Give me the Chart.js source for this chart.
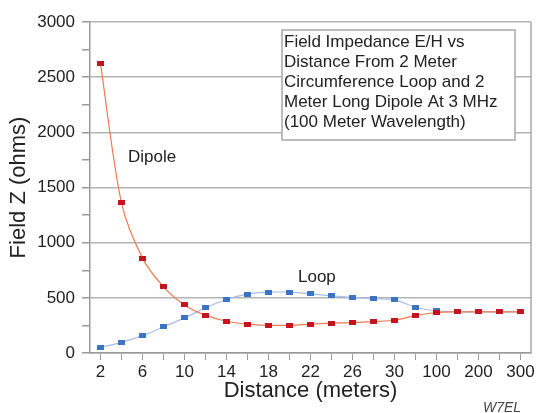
<!DOCTYPE html>
<html>
<head>
<meta charset="utf-8">
<script src="https://cdn.jsdelivr.net/npm/chart.js@4/dist/chart.umd.min.js"></script>
<style>
  html, body { margin: 0; padding: 0; background: #fff; }
  #wrap { width: 537px; height: 413px; }
</style>
</head>
<body>
<div id="wrap"><canvas id="chart"></canvas></div>
<script>
// distances in meters (every other one gets a label)
var distances = ['2','4','6','8','10','12','14','16','18','20','22','24','26','28','30','50','100','150','200','250','300'];
var dipoleZ = [2620,1360,860,600,436,342,288,261,251,251,261,270,276,285,297,339,367,373,373,373,373];
var loopZ   = [51,97,158,236,318,409,485,533,551,551,536,518,503,491,482,415,382,373,373,373,373];
var yTicks = [0,500,1000,1500,2000,2500,3000];

var noteLines = [
  'Field Impedance E/H vs',
  'Distance From 2 Meter',
  'Circumference Loop and 2',
  'Meter Long Dipole At 3 MHz',
  '(100 Meter Wavelength)'
];

var FONT = '"Liberation Sans", Arial, sans-serif';

// small flat markers, a bit wider than tall
function marker(color) {
  var c = document.createElement('canvas');
  c.width = 7; c.height = 5;
  var g = c.getContext('2d');
  g.fillStyle = color;
  g.fillRect(0, 0, 7, 5);
  return c;
}

var extras = {
  id: 'extras',
  afterDraw: function(chart) {
    var ctx = chart.ctx, a = chart.chartArea;
    ctx.save();
    // right frame line
    ctx.strokeStyle = '#aaaaaa';
    ctx.lineWidth = 1.5;
    ctx.beginPath();
    ctx.moveTo(a.right, a.top);
    ctx.lineTo(a.right, a.bottom);
    ctx.stroke();

    // note box
    ctx.fillStyle = '#ffffff';
    ctx.fillRect(282, 30, 233, 110);
    ctx.strokeStyle = '#a8a8a8';
    ctx.lineWidth = 1.5;
    ctx.strokeRect(282, 30, 233, 110);
    ctx.fillStyle = '#222222';
    ctx.font = '17px ' + FONT;
    ctx.textBaseline = 'middle';
    ctx.textAlign = 'left';
    noteLines.forEach(function(t, i) {
      ctx.fillText(t, 284, 42 + i * 20);
    });

    // series names
    ctx.fillText('Dipole', 128, 157);
    ctx.fillText('Loop', 298, 277);

    ctx.fillStyle = '#444444';
    ctx.font = 'italic 14px ' + FONT;
    ctx.fillText('W7EL', 483, 408);
    ctx.restore();
  }
};

new Chart(document.getElementById('chart'), {
  type: 'line',
  data: {
    labels: distances,
    datasets: [{
      label: 'Dipole',
      data: dipoleZ,
      borderColor: '#ec7a52',
      borderWidth: 1.2,
      pointStyle: marker('#c4141f'),
      pointRadius: 4,
      tension: 0.3
    }, {
      label: 'Loop',
      data: loopZ,
      borderColor: '#a9bdea',
      borderWidth: 1.2,
      pointStyle: marker('#3c74c4'),
      pointRadius: 4,
      tension: 0.3
    }]
  },
  plugins: [extras],
  options: {
    responsive: true,
    maintainAspectRatio: false,
    animation: false,
    layout: { padding: { top: 22, right: 6, left: 0, bottom: 0 } },
    plugins: { legend: { display: false }, tooltip: { enabled: false } },
    scales: {
      x: {
        offset: true,
        grid: { drawOnChartArea: false, color: '#999999', tickLength: 7, offset: false },
        border: { color: '#999999', width: 1.5 },
        ticks: {
          autoSkip: false, maxRotation: 0, padding: 2,
          color: '#222222', font: { family: FONT, size: 17 },
          callback: function(v, i) { return i % 2 === 0 ? distances[i] : ''; }
        },
        title: {
          display: true, text: 'Distance (meters)', color: '#222222',
          font: { family: FONT, size: 22 }, padding: { top: 0, bottom: 9 }
        },
        afterFit: function(s) { s.height = 60; }
      },
      y: {
        min: 0, max: 3000,
        grid: {
          color: function(c) { return c.tick && c.tick.value % 500 === 0 ? '#b4b4b4' : 'rgba(0,0,0,0)'; },
          tickColor: '#999999', tickLength: 8, lineWidth: 1.5
        },
        border: { color: '#999999', width: 1.5 },
        ticks: {
          stepSize: 250, padding: 7, color: '#222222', font: { family: FONT, size: 17 },
          callback: function(v) { return yTicks.indexOf(v) >= 0 ? v : ''; }
        },
        title: {
          display: true, text: 'Field Z (ohms)', color: '#222222',
          font: { family: FONT, size: 22 }, padding: { top: 6, bottom: 0 }
        },
        afterFit: function(s) { s.width = 90; }
      }
    }
  }
});
</script>
</body>
</html>
